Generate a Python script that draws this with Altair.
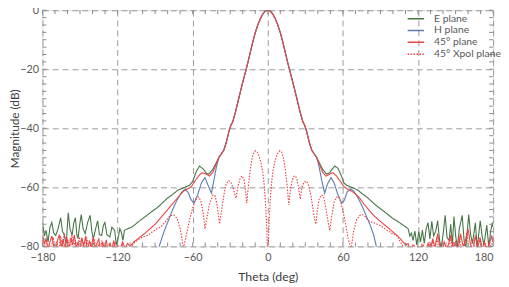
import altair as alt
import pandas as pd

SERIES = ["E plane", "H plane", "45° plane", "45° Xpol plane"]
COLORS = ["#467546", "#5b7bb0", "#e84646", "#ee3b3b"]
X_LABELS = [-180, -120, -60, 0, 60, 120, 180]
Y_LABELS = [-80, -60, -40, -20, 0]
X_MINOR = list(range(-180, 181, 10))
Y_MINOR = [-80 + 2.5 * i for i in range(33)]

# main lobe common to E, H and 45 deg planes
MAIN = [(-39, -49.8), (-37, -48.6), (-35, -47.3), (-33, -44.5), (-31, -41.0), (-29.5, -39.0),
        (-28, -37.8), (-26, -34.8), (-24, -31.3), (-22, -27.8), (-20, -24.4), (-18, -21.2),
        (-16, -17.9), (-14, -14.3), (-12, -10.8), (-10, -7.6), (-8, -5.0), (-6, -2.9),
        (-4, -1.3), (-2, -0.3), (0, 0.0), (2, -0.3), (4, -1.3), (6, -2.9), (8, -5.0),
        (10, -7.6), (12, -10.8), (14, -14.3), (16, -17.9), (18, -21.2), (20, -24.4),
        (22, -27.8), (24, -31.3), (26, -34.8), (28, -37.8), (29.5, -39.0), (31, -41.0),
        (33, -44.5), (35, -47.3), (37, -48.6), (39, -49.8)]

E_LEFT = [(-180, -72.0), (-178.5, -76.5), (-177.2, -74.5), (-175.5, -78.5), (-174, -73.5),
          (-172.5, -71.9), (-171, -75.5), (-169.4, -76.3), (-167.5, -74.0), (-165.4, -70.3),
          (-164, -75.0), (-162.9, -75.7), (-161, -79.0), (-159.4, -68.6), (-158, -74.0),
          (-156.3, -76.3), (-155, -72.0), (-153.7, -70.3), (-152.5, -76.0), (-151.6, -77.4),
          (-150.2, -72.5), (-149, -69.2), (-147.5, -74.0), (-145.8, -75.7), (-144, -72.0),
          (-141.9, -69.5), (-140.5, -75.0), (-139.3, -77.4), (-137.5, -74.0), (-135.9, -71.3),
          (-134.5, -76.0), (-132.7, -76.3), (-131.4, -73.0), (-130.1, -71.9), (-128.5, -76.0),
          (-126.2, -76.8), (-124.5, -73.5), (-122.3, -74.6), (-121, -79.5), (-119.6, -77.4),
          (-118.2, -74.0), (-117, -75.2), (-115.7, -78.0), (-114.5, -74.6), (-112, -74.0),
          (-109, -73.6), (-106, -72.6), (-103, -71.5), (-100, -70.6), (-96, -69.3),
          (-92, -68.0), (-88, -66.8), (-84, -65.2), (-80, -63.6), (-76, -62.4), (-72, -61.0),
          (-68, -60.3), (-65, -59.7), (-62.5, -59.3), (-60, -58.0), (-57, -54.5),
          (-54.5, -52.8), (-51.5, -53.8), (-49, -55.3), (-47, -55.5), (-44, -54.0), (-41, -51.5)]
E_RIGHT = [(41, -51.5), (44, -54.0), (47, -55.5), (49.5, -55.0), (51.5, -53.8), (53.5, -52.8),
           (56, -53.5), (58.5, -55.8), (61, -58.6), (63, -59.3), (66, -59.8), (69, -60.3),
           (72, -61.0), (76, -62.3), (80, -63.6), (84, -65.2), (88, -66.6), (92, -67.9),
           (96, -69.2), (100, -70.6), (103, -71.3), (106, -72.2), (108.5, -72.9), (110.5, -73.5),
           (112, -73.9), (113.5, -76.5), (114.7, -75.5), (116, -78.0), (117.5, -74.8),
           (119, -79.5), (120.7, -75.0), (122, -78.5), (123.5, -74.5), (125, -79.0),
           (126.5, -74.0), (128, -72.0), (129.5, -77.5), (131, -71.5), (132.5, -76.5),
           (134, -75.0), (135.7, -71.3), (137.2, -78.0), (138.5, -80.5), (140, -76.0),
           (141.7, -69.5), (143.2, -77.0), (144.9, -78.0), (146.1, -72.5), (147.5, -79.5),
           (148.7, -69.9), (150.1, -76.5), (151.5, -80.5), (153, -74.0), (155.3, -69.5),
           (156.8, -78.0), (158.2, -80.5), (160.5, -69.2), (162, -76.0), (163.5, -79.0),
           (165.8, -72.0), (167.3, -80.5), (169.7, -71.3), (171.2, -76.5), (172.7, -79.5),
           (174.9, -72.8), (176.5, -80.0), (178, -75.0), (179.4, -71.9), (180, -73.5)]

H_LEFT = [(-88, -83.0), (-86.7, -80.0), (-84.5, -77.0), (-82, -74.0), (-79, -70.8),
          (-76, -67.5), (-72.5, -64.3), (-69, -61.8), (-66, -60.6), (-63.5, -61.8),
          (-61.5, -64.0), (-59, -65.4), (-56, -62.5), (-53, -58.5), (-50.2, -56.7),
          (-47.5, -59.5), (-45, -62.0), (-43, -57.5), (-41, -53.0)]
H_RIGHT = [(41, -53.0), (43, -57.5), (45.5, -62.0), (47.5, -59.0), (50.5, -56.7), (53, -58.5),
           (56, -62.5), (59, -65.3), (61, -64.5), (63.5, -61.5), (66.5, -60.5), (69, -61.5),
           (72, -63.5), (75.5, -66.5), (79, -70.0), (82, -73.0), (84.5, -76.0), (86.7, -80.0),
           (88, -83.0)]

P45_LEFT = [(-180, -76.0), (-178.5, -79.0), (-177, -77.5), (-175.5, -81.0), (-174, -78.5),
            (-172.5, -76.5), (-171, -80.0), (-169.5, -82.0), (-168, -78.0), (-166.5, -76.0),
            (-165, -80.5), (-163.5, -77.5), (-162, -81.0), (-160.5, -76.8), (-159, -82.0),
            (-157.5, -77.0), (-156, -79.5), (-154.5, -76.2), (-153, -80.5), (-151.5, -78.5),
            (-150, -81.5), (-148.5, -77.0), (-147, -80.0), (-145.5, -76.5), (-144, -82.0),
            (-142.5, -78.0), (-141, -80.5), (-139.5, -76.8), (-138, -81.0), (-136.5, -79.0),
            (-135, -77.5), (-133.5, -82.0), (-132, -78.5), (-130.5, -80.5), (-129, -77.8),
            (-127.5, -82.0), (-126, -79.0), (-124.5, -80.8), (-123, -78.0), (-121.5, -82.0),
            (-120, -79.5), (-118, -81.0), (-116, -78.5), (-114, -80.5), (-112, -79.0),
            (-110, -80.0), (-107, -78.5), (-104, -77.5), (-101, -76.5), (-98, -75.5),
            (-94, -74.0), (-90, -72.5), (-86, -70.5), (-82, -68.5), (-78, -66.5), (-74, -64.5),
            (-70, -62.5), (-67, -61.2), (-64, -60.5), (-61, -59.7), (-58, -57.8), (-55, -56.0),
            (-52.5, -55.0), (-49, -55.6), (-46.5, -56.2), (-44, -55.0), (-41, -52.0)]
P45_RIGHT = [(41, -52.0), (44, -55.0), (46.5, -56.2), (49, -55.6), (52, -55.0), (55, -56.2),
             (58, -58.0), (61, -59.8), (64, -60.7), (67, -61.3), (70, -62.2), (73, -63.4),
             (77, -65.8), (81, -67.8), (85, -69.7), (89, -71.2), (93, -72.6), (97, -74.0),
             (101, -75.5), (104.5, -76.8), (107, -78.0), (110, -79.5), (112, -79.0),
             (114, -81.5), (116, -79.5), (118, -82.0), (120, -80.0), (122, -81.5), (124, -79.5),
             (126, -82.0), (128, -79.0), (130, -81.0), (131.7, -77.4), (133.5, -80.5),
             (135.7, -75.7), (137.5, -80.0), (139, -82.0), (141, -78.5), (143, -81.0),
             (144.5, -79.0), (146.1, -76.3), (148, -80.5), (150, -78.5), (152, -81.5),
             (154, -75.7), (156, -80.0), (158, -78.0), (160, -74.1), (162, -79.5), (164, -81.0),
             (165.8, -76.3), (167.5, -80.5), (169.7, -77.4), (171.5, -81.0), (173, -78.5),
             (175, -81.5), (177, -79.0), (178.9, -76.3), (180, -78.5)]

XPOL = [(-180, -78.0), (-179, -80.5), (-177.5, -77.5), (-176, -82.0), (-174.5, -79.0),
        (-173, -81.5), (-171.5, -76.8), (-170, -80.5), (-168.5, -78.5), (-167, -82.0),
        (-165.5, -76.5), (-164, -80.0), (-162.5, -75.5), (-161, -81.0), (-159.5, -77.8),
        (-158, -82.5), (-156.5, -76.2), (-155, -80.0), (-153.5, -78.0), (-152, -82.0),
        (-150.5, -76.8), (-149, -80.5), (-147.5, -78.5), (-146, -81.5), (-144.5, -77.0),
        (-143, -82.0), (-141.5, -79.0), (-140, -81.0), (-138.5, -77.5), (-137, -82.5),
        (-135.5, -79.5), (-134, -80.8), (-132.5, -78.0), (-131, -82.0), (-129.5, -79.5),
        (-128, -81.5), (-126.5, -78.8), (-125, -82.0), (-123.5, -80.0), (-122, -78.5),
        (-120.5, -82.0), (-119, -80.5), (-117.5, -81.5), (-116, -79.5), (-114.5, -82.0),
        (-113, -80.0), (-111.5, -81.0), (-109, -80.0), (-106, -78.5), (-104, -77.9),
        (-100, -76.8), (-96, -76.3), (-92, -75.0), (-88.5, -74.0), (-85.6, -73.5),
        (-82, -71.8), (-79, -70.0), (-75.2, -69.2), (-72.5, -70.5), (-70, -74.0),
        (-67.3, -80.6), (-65, -76.0), (-62.5, -71.0), (-60, -67.0), (-58, -64.5),
        (-55.4, -63.2), (-53.5, -64.5), (-51.5, -69.0), (-50.2, -74.1), (-48.5, -70.0),
        (-46.5, -65.5), (-43.7, -62.6), (-42, -63.0), (-40.5, -66.0), (-38.5, -72.4),
        (-37, -68.0), (-35, -62.5), (-33.3, -58.8), (-31, -57.7), (-29.3, -58.5),
        (-27.5, -60.5), (-25.4, -63.7), (-24, -60.0), (-22, -56.8), (-20.5, -56.1),
        (-19, -57.5), (-17.8, -61.0), (-16.8, -65.4), (-15.5, -59.5), (-14, -54.0),
        (-12.5, -50.0), (-11, -48.0), (-9.7, -47.6), (-8.5, -48.0), (-7, -49.3),
        (-5.5, -51.5), (-4, -55.0), (-3, -58.5), (-2, -64.0), (-1, -72.0), (0, -85.0),
        (1, -72.0), (2, -64.0), (3, -58.5), (4, -55.0), (5.5, -51.5), (7, -49.3),
        (8.5, -48.0), (9.7, -47.6), (11, -48.0), (12.5, -50.0), (14, -54.0), (15.5, -59.5),
        (16.8, -66.0), (18, -61.0), (19.5, -57.5), (21, -56.2), (22, -56.1), (23.2, -57.0),
        (24.5, -60.0), (25.9, -64.0), (27.3, -60.0), (29, -58.2), (31, -57.9), (32.8, -59.5),
        (34.5, -63.0), (36, -67.0), (37.5, -71.0), (38.5, -72.5), (39.5, -68.0), (41, -64.0),
        (43, -62.6), (44.5, -63.0), (46, -66.0), (47.5, -70.0), (49.5, -74.6), (51, -70.0),
        (53, -65.0), (55, -63.3), (56.5, -63.2), (58, -64.5), (60, -68.0), (62, -72.0),
        (64, -77.0), (66.5, -81.0), (68.5, -75.0), (71, -71.0), (73.5, -69.5), (75.7, -69.2),
        (78, -70.0), (80, -71.2), (83, -71.8), (86, -72.2), (89, -72.8), (92, -73.5),
        (95, -74.5), (98, -75.2), (100, -76.0), (102, -75.8), (104, -77.0), (106, -78.5),
        (108, -80.0), (109.5, -81.5), (111, -79.5), (112.5, -82.0), (114, -80.5),
        (115.5, -82.5), (117, -80.0), (118.5, -82.0), (120, -80.5), (121.5, -82.5),
        (123, -79.5), (124.5, -81.5), (126, -80.0), (127.5, -82.5), (129, -78.5),
        (130.5, -81.0), (132, -77.8), (133.5, -81.5), (135, -76.8), (136.5, -80.5),
        (138, -82.5), (139.5, -78.0), (141, -81.5), (142.5, -79.0), (144, -82.0),
        (145.5, -77.0), (147, -80.5), (148.5, -78.5), (150, -82.0), (151.5, -79.0),
        (153, -76.5), (154.5, -80.5), (156, -82.0), (157.5, -78.5), (159, -75.5),
        (160.5, -80.0), (162, -82.0), (163.5, -77.5), (165, -79.5), (166.5, -82.0),
        (168, -78.0), (169.5, -76.8), (171, -80.5), (172.5, -82.0), (174, -79.0),
        (175.5, -81.5), (177, -78.0), (178.5, -80.5), (180, -77.5)]

curves = {
    "E plane": E_LEFT + MAIN + E_RIGHT,
    "H plane": H_LEFT + MAIN + H_RIGHT,
    "45° plane": P45_LEFT + MAIN + P45_RIGHT,
    "45° Xpol plane": XPOL,
}
rows = []
for k, (name, pts) in enumerate(curves.items()):
    for i, (t, d) in enumerate(pts):
        rows.append({"series": name, "theta": t, "db": d, "ord": k * 1000 + i})
df = pd.DataFrame(rows)

W, H = 458, 240
FONT = "Lato"
xs = alt.Scale(domain=[-180, 180], nice=False, zero=False)
ys = alt.Scale(domain=[-80, 0], nice=False, zero=False)

legend = alt.Legend(
    title=None, orient="none", legendX=370, legendY=3,
    symbolType="stroke", symbolStrokeWidth=1.5, symbolSize=280, clipHeight=11.3,
    labelFontSize=10.5, labelColor="#595959", labelFont=FONT,
    rowPadding=0, labelOffset=9, padding=0,
)

lines = alt.Chart(df).mark_line(clip=True, strokeWidth=1.1).encode(
    x=alt.X("theta:Q", scale=xs, title="Theta (deg)",
            axis=alt.Axis(values=X_LABELS, grid=True, gridDash=[6, 4], gridColor="#9a9a9a",
                          gridWidth=1, ticks=False, domain=False, labelColor="#595959",
                          labelFontSize=11, labelPadding=5, titleFontSize=12.5,
                          titleColor="#404040", titleFontWeight="normal", titlePadding=9,
                          labelFont=FONT, titleFont=FONT,
                          labelAlign=alt.condition("datum.value == 180", alt.value("right"),
                                                   alt.value("center")))),
    y=alt.Y("db:Q", scale=ys, title="Magnitude (dB)",
            axis=alt.Axis(values=Y_LABELS, grid=True, gridDash=[6, 4], gridColor="#9a9a9a",
                          gridWidth=1, ticks=False, domain=False, labelColor="#595959",
                          labelFontSize=11, labelPadding=4, titleFontSize=12,
                          titleColor="#404040", titleFontWeight="normal",
                          titleX=-28, titleY=H / 2, titleBaseline="middle",
                          titleAlign="center", titleAngle=270,
                          labelFont=FONT, titleFont=FONT)),
    color=alt.Color("series:N", scale=alt.Scale(domain=SERIES, range=COLORS), legend=legend),
    strokeDash=alt.StrokeDash("series:N",
                              scale=alt.Scale(domain=SERIES,
                                              range=[[1, 0], [1, 0], [1, 0], [1.5, 1.5]]),
                              legend=legend),
    order="ord:Q",
    detail="series:N",
)

tick_color = "#8a8a8a"
xt = pd.DataFrame({"t": X_MINOR})
yt = pd.DataFrame({"t": Y_MINOR})
bottom_ticks = alt.Chart(xt).mark_rule(color=tick_color).encode(
    x=alt.X("t:Q", scale=xs), y=alt.value(H), y2=alt.value(H - 4))
top_ticks = alt.Chart(xt).mark_rule(color=tick_color).encode(
    x=alt.X("t:Q", scale=xs), y=alt.value(0), y2=alt.value(4))
left_ticks = alt.Chart(yt).mark_rule(color=tick_color).encode(
    y=alt.Y("t:Q", scale=ys), x=alt.value(0), x2=alt.value(4))
right_ticks = alt.Chart(yt).mark_rule(color=tick_color).encode(
    y=alt.Y("t:Q", scale=ys), x=alt.value(W), x2=alt.value(W - 4))

chart = alt.layer(lines, bottom_ticks, top_ticks, left_ticks, right_ticks).properties(
    width=W, height=H,
    autosize=alt.AutoSizeParams(type="none"),
    padding={"left": 35, "top": 0, "right": 8, "bottom": 39},
).configure_view(stroke="#808080", strokeWidth=1).configure(background="white")

chart.save("out.html", embed_options={"renderer": "svg", "actions": False})
